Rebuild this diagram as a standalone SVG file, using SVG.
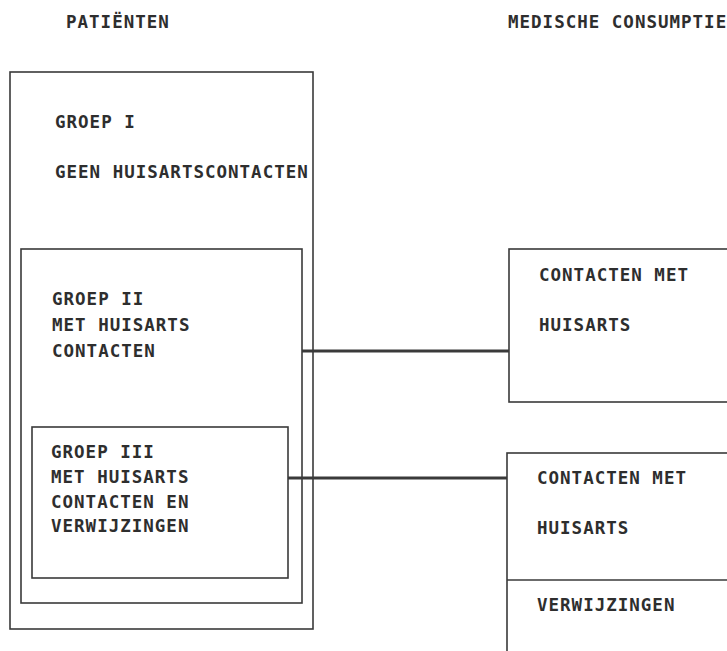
<svg xmlns="http://www.w3.org/2000/svg" width="727" height="651" viewBox="0 0 727 651">
<style>
.box{fill:none;stroke:#3a3a3a;stroke-width:1.6}
.con{stroke:#3a3a3a;stroke-width:3.2;fill:none}
text{font-family:"DejaVu Sans Mono","Liberation Mono",monospace;font-weight:bold;font-size:17.5px;letter-spacing:1px;fill:#2e2e2e}
</style>
<rect width="727" height="651" fill="#fff"/>
<g id="headers">
<text x="66" y="28">PATIËNTEN</text>
<text x="508" y="28">MEDISCHE CONSUMPTIE</text>
</g>
<g id="groep1">
<rect class="box" x="10" y="72" width="303" height="557"/>
<text x="55" y="128">GROEP I</text>
<text x="55" y="178">GEEN HUISARTSCONTACTEN</text>
</g>
<g id="groep2">
<rect class="box" x="21" y="249" width="281" height="354"/>
<text x="52" y="305">GROEP II</text>
<text x="52" y="331">MET HUISARTS</text>
<text x="52" y="357">CONTACTEN</text>
</g>
<g id="groep3">
<rect class="box" x="32" y="427" width="256" height="151"/>
<text x="51" y="458">GROEP III</text>
<text x="51" y="483">MET HUISARTS</text>
<text x="51" y="508">CONTACTEN EN</text>
<text x="51" y="532">VERWIJZINGEN</text>
</g>
<g id="consumptie1">
<rect class="box" x="509" y="249" width="230" height="153"/>
<text x="539" y="281">CONTACTEN MET</text>
<text x="539" y="331">HUISARTS</text>
</g>
<g id="consumptie2">
<rect class="box" x="507" y="453" width="232" height="210"/>
<line class="box" x1="507" y1="580" x2="739" y2="580"/>
<text x="537" y="484">CONTACTEN MET</text>
<text x="537" y="534">HUISARTS</text>
<text x="537" y="611">VERWIJZINGEN</text>
</g>
<g id="connectors">
<line class="con" x1="302" y1="351" x2="509" y2="351"/>
<line class="con" x1="288" y1="478" x2="507" y2="478"/>
</g>
</svg>
